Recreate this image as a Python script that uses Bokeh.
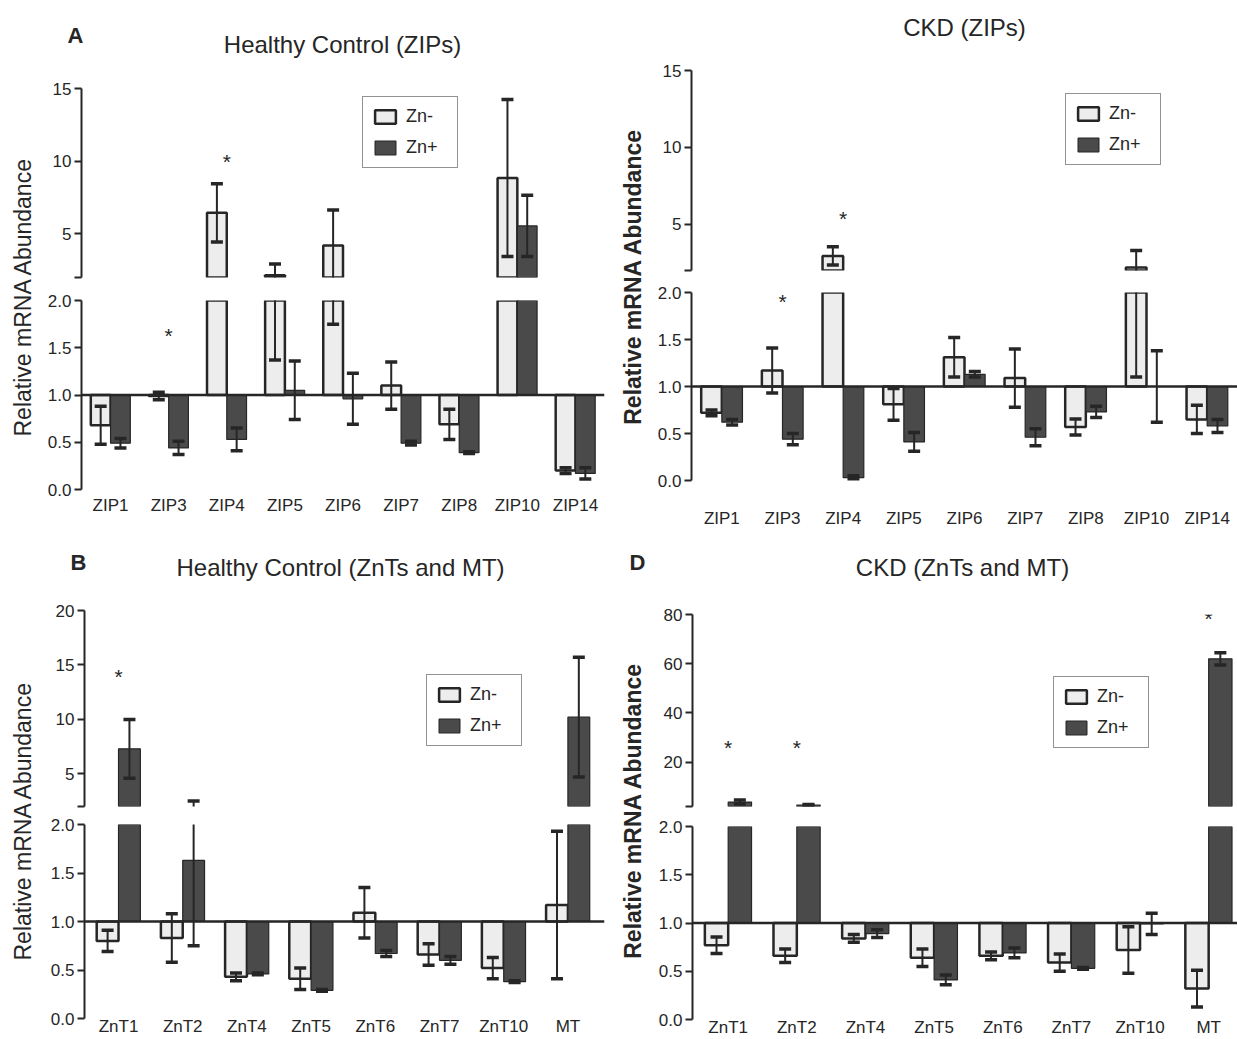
import math
from bokeh.plotting import figure
from bokeh.layouts import row, column
from bokeh.models import (Range1d, FixedTicker, Span, Legend, LegendItem, PrintfTickFormatter,
                          ColumnDataSource, CDSView, IndexFilter)
from bokeh.core.properties import value
from bokeh.embed import file_html
from bokeh.resources import INLINE

# ---------------- data ----------------
zip_genes = ["ZIP1", "ZIP3", "ZIP4", "ZIP5", "ZIP6", "ZIP7", "ZIP8", "ZIP10", "ZIP14"]
znt_genes = ["ZnT1", "ZnT2", "ZnT4", "ZnT5", "ZnT6", "ZnT7", "ZnT10", "MT"]

hc_zip_minus = [0.68, 0.99, 6.45, 2.15, 4.2, 1.10, 0.69, 8.85, 0.20]
hc_zip_minus_sd = [0.20, 0.04, 2.0, 0.78, 2.45, 0.25, 0.16, 5.4, 0.03]
hc_zip_plus = [0.49, 0.44, 0.53, 1.05, 0.96, 0.49, 0.39, 5.55, 0.17]
hc_zip_plus_sd = [0.05, 0.07, 0.12, 0.31, 0.27, 0.02, 0.01, 2.1, 0.06]
hc_zip_star_genes = ["ZIP3", "ZIP4"]
hc_zip_star_y = [1.63, 10.0]

ckd_zip_minus = [0.72, 1.17, 2.95, 0.81, 1.31, 1.09, 0.57, 2.2, 0.65]
ckd_zip_minus_sd = [0.03, 0.24, 0.6, 0.17, 0.21, 0.31, 0.085, 1.1, 0.15]
ckd_zip_plus = [0.62, 0.44, 0.03, 0.41, 1.13, 0.46, 0.73, 1.0, 0.58]
ckd_zip_plus_sd = [0.03, 0.06, 0.02, 0.10, 0.03, 0.09, 0.06, 0.38, 0.07]
ckd_zip_star_genes = ["ZIP3", "ZIP4"]
ckd_zip_star_y = [1.9, 5.4]

hc_znt_minus = [0.80, 0.83, 0.43, 0.41, 1.09, 0.66, 0.52, 1.17]
hc_znt_minus_sd = [0.11, 0.25, 0.04, 0.11, 0.26, 0.11, 0.11, 0.76]
hc_znt_plus = [7.3, 1.63, 0.46, 0.29, 0.67, 0.60, 0.38, 10.2]
hc_znt_plus_sd = [2.7, 0.88, 0.01, 0.01, 0.03, 0.04, 0.01, 5.5]
hc_znt_star_genes = ["ZnT1"]
hc_znt_star_y = [13.9]

ckd_znt_minus = [0.77, 0.66, 0.84, 0.64, 0.66, 0.59, 0.72, 0.32]
ckd_znt_minus_sd = [0.085, 0.07, 0.04, 0.09, 0.04, 0.09, 0.24, 0.19]
ckd_znt_plus = [3.8, 2.6, 0.89, 0.41, 0.69, 0.53, 0.99, 62.0]
ckd_znt_plus_sd = [0.8, 0.2, 0.04, 0.05, 0.05, 0.01, 0.11, 2.5]
ckd_znt_star_genes = ["ZnT1", "ZnT2", "MT"]
ckd_znt_star_y = [26.0, 26.0, 78.5]

BASELINE = 1.0
lower_ticks = [0, 0.5, 1.0, 1.5, 2.0]
y_title = "Relative mRNA Abundance"
series_names = ["Zn-", "Zn+"]

# ---------------- style ----------------
FONT = "Liberation Sans"
DARK = "#262626"
LIGHT = "#ededed"
DARKFILL = "#4a4a4a"
BW = 0.34


def txt(p, x, y, s, size, bold=False, angle=0.0):
    p.text(x=[x], y=[y], text=[s], angle=angle, text_font=value(FONT),
           text_font_size=value(f"{size}px"),
           text_font_style=value("bold" if bold else "normal"),
           text_align="center", text_baseline="middle", text_color=DARK)


def blank_fig(w, h, x0, top):
    # data coordinates equal page pixels (y negated)
    p = figure(width=w, height=h, x_range=Range1d(x0, x0 + w), y_range=Range1d(-(top + h), -top),
               x_axis_location=None, y_axis_location=None, output_backend="svg",
               toolbar_location=None, min_border=0)
    p.outline_line_color = None
    p.grid.visible = False
    return p


def style_yaxis(ax):
    ax.axis_line_color = DARK
    ax.axis_line_width = 2
    ax.major_tick_line_color = DARK
    ax.major_tick_line_width = 2
    ax.major_tick_out = 7
    ax.major_tick_in = 0
    ax.minor_tick_line_color = None
    ax.major_label_text_font = FONT
    ax.major_label_text_font_size = "17px"
    ax.major_label_text_color = DARK
    ax.major_label_standoff = 3


def panel(cats, mm, ms, pm, ps, star_genes, star_y, fig_w, lb, rb, xr, up_range, up_ticks,
          up_h, up_tb, up_bb, lo_h, lo_tb, lo_bb, x_standoff, leg_loc):
    xs = [i + 0.5 for i in range(len(cats))]
    xm = [x - BW / 2 for x in xs]
    xp = [x + BW / 2 for x in xs]
    out = []
    for kind in ("upper", "lower"):
        if kind == "upper":
            yr = Range1d(*up_range)
            h, tb, bb = up_h, up_tb, up_bb
            floor = up_range[0]
        else:
            yr = Range1d(0, 2)
            h, tb, bb = lo_h, lo_tb, lo_bb
            floor = -1e9
        p = figure(width=fig_w, height=h, x_range=Range1d(*xr), y_range=yr,
                   x_axis_location=None if kind == "upper" else "below",
                   output_backend="svg", toolbar_location=None,
                   min_border_left=lb, min_border_right=rb, min_border_top=tb, min_border_bottom=bb)
        p.outline_line_color = None
        p.grid.visible = False
        p.background_fill_color = "white"
        style_yaxis(p.yaxis[0])
        if kind == "upper":
            p.yaxis.ticker = FixedTicker(ticks=up_ticks)
            p.yaxis.major_label_overrides = {up_range[0]: ""}
        else:
            p.yaxis.ticker = FixedTicker(ticks=lower_ticks)
            p.yaxis.formatter = PrintfTickFormatter(format="%.1f")
            xa = p.xaxis[0]
            xa.ticker = FixedTicker(ticks=xs)
            xa.major_label_overrides = {x: c for x, c in zip(xs, cats)}
            xa.axis_line_color = None
            xa.major_tick_line_color = None
            xa.minor_tick_line_color = None
            xa.major_tick_out = 0
            xa.major_label_text_font = FONT
            xa.major_label_text_font_size = "17px"
            xa.major_label_text_color = DARK
            xa.major_label_standoff = x_standoff
        legend_rs = []
        for xx, m, fill, lw in ((xm, mm, LIGHT, 2.5), (xp, pm, DARKFILL, 1.2)):
            # only the bars that reach into this segment of the broken axis
            keep = [i for i in range(len(m)) if m[i] > floor]
            src = ColumnDataSource(dict(x=xx, top=m))
            p.vbar(x="x", width=BW, bottom=BASELINE, top="top", source=src,
                   view=CDSView(filter=IndexFilter(keep)),
                   fill_color=fill, line_color=DARK, line_width=lw)
            if kind == "upper":
                # hidden full-data renderer used only for the legend swatch
                lr = p.vbar(x="x", width=BW, bottom=BASELINE, top="top", source=src,
                            fill_color=fill, line_color=DARK, line_width=lw, visible=False)
                legend_rs.append(lr)
        for xx, m, s in ((xm, mm, ms), (xp, pm, ps)):
            keep = [i for i in range(len(m)) if m[i] + s[i] > floor]
            ex = [xx[i] for i in keep]
            lo = [m[i] - s[i] for i in keep]
            hi = [m[i] + s[i] for i in keep]
            if ex:
                p.segment(x0=ex, y0=lo, x1=ex, y1=hi, line_color=DARK, line_width=2)
            ux = [ex[k] for k in range(len(ex)) if hi[k] > floor]
            uy = [hi[k] for k in range(len(ex)) if hi[k] > floor]
            lx = [ex[k] for k in range(len(ex)) if lo[k] > floor]
            ly = [lo[k] for k in range(len(ex)) if lo[k] > floor]
            if ux or lx:
                p.scatter(x=ux + lx, y=uy + ly, marker="dash", size=12, line_color=DARK,
                          line_width=3.5)
        if kind == "lower":
            p.add_layout(Span(location=BASELINE, dimension="width", line_color=DARK, line_width=2.5))
        sx = [xs[cats.index(g)] for g, y in zip(star_genes, star_y) if (y > 2) == (kind == "upper")]
        sy = [y for y in star_y if (y > 2) == (kind == "upper")]
        if sx:
            p.text(x=sx, y=sy, text=["*"] * len(sx), text_font=value(FONT),
                   text_font_size=value("21px"), text_align="center",
                   text_baseline="middle", text_color=DARK)
        if kind == "upper":
            leg = Legend(items=[LegendItem(label=series_names[0], renderers=[legend_rs[0]]),
                                LegendItem(label=series_names[1], renderers=[legend_rs[1]])],
                         location=leg_loc)
            leg.border_line_color = DARK
            leg.border_line_width = 1.5
            leg.background_fill_color = "white"
            leg.background_fill_alpha = 1
            leg.inactive_fill_alpha = 0
            leg.label_text_font = FONT
            leg.label_text_font_size = "18px"
            leg.label_text_color = DARK
            leg.glyph_width = 26
            leg.glyph_height = 17
            leg.spacing = 10
            leg.padding = 9
            leg.margin = 0
            leg.label_standoff = 8
            leg.label_width = 42
            p.add_layout(leg)
        out.append(p)
    return out


# ---------- left column (A, B) ----------
LW = 577
hA = blank_fig(617, 80, 0, 0)
txt(hA, 75, -35, "A", 22, bold=True)
txt(hA, 342, -44, "Healthy Control (ZIPs)", 24)
upA, loA = panel(zip_genes, hc_zip_minus, hc_zip_minus_sd, hc_zip_plus, hc_zip_plus_sd,
                 hc_zip_star_genes, hc_zip_star_y, LW, 41, 13, (0, 9), (2, 15), [2, 5, 10, 15],
                 208, 8, 11, 242, 12, 41, 6, (281, 109))
stripA = blank_fig(40, 450, 0, 80)
txt(stripA, 22, -296, y_title, 23, angle=math.pi / 2)

hB = blank_fig(617, 70, 0, 530)
txt(hB, 78, -562, "B", 22, bold=True)
txt(hB, 340, -567, "Healthy Control (ZnTs and MT)", 24)
upB, loB = panel(znt_genes, hc_znt_minus, hc_znt_minus_sd, hc_znt_plus, hc_znt_plus_sd,
                 hc_znt_star_genes, hc_znt_star_y, LW, 44, 13, (-0.03, 8.07), (2, 20), [2, 5, 10, 15, 20],
                 216, 10, 10, 223, 8, 21, -2, (342, 60))
stripB = blank_fig(40, 439, 0, 600)
txt(stripB, 22, -820, y_title, 23, angle=math.pi / 2)

# ---------- right column (C, D) ----------
RW = 587
hC = blank_fig(620, 62, 617, 0)
txt(hC, 964, -27, "CKD (ZIPs)", 24)
upC, loC = panel(zip_genes, ckd_zip_minus, ckd_zip_minus_sd, ckd_zip_plus, ckd_zip_plus_sd,
                 ckd_zip_star_genes, ckd_zip_star_y, RW, 41, 0, (0, 9), (2, 15), [2, 5, 10, 15],
                 218, 8, 10, 250, 12, 49, 28, (374, 105))
stripC = blank_fig(33, 468, 617, 62)
txt(stripC, 632, -276, y_title, 23, bold=True, angle=math.pi / 2)

hD = blank_fig(620, 74, 617, 530)
txt(hD, 637, -562, "D", 22, bold=True)
txt(hD, 962, -567, "CKD (ZnTs and MT)", 24)
upD, loD = panel(znt_genes, ckd_znt_minus, ckd_znt_minus_sd, ckd_znt_plus, ckd_znt_plus_sd,
                 ckd_znt_star_genes, ckd_znt_star_y, RW, 42, 0, (-0.02, 7.92), (2, 80), [2, 20, 40, 60, 80],
                 212, 10, 10, 223, 10, 19, -2, (361, 58))
stripD = blank_fig(33, 435, 617, 604)
txt(stripD, 632, -810, y_title, 23, bold=True, angle=math.pi / 2)

left = column(hA, row(stripA, column(upA, loA)), hB, row(stripB, column(upB, loB)))
right = column(hC, row(stripC, column(upC, loC)), hD, row(stripD, column(upD, loD)))
page = row(left, right)

open("out.html", "w").write(file_html(page, INLINE))
